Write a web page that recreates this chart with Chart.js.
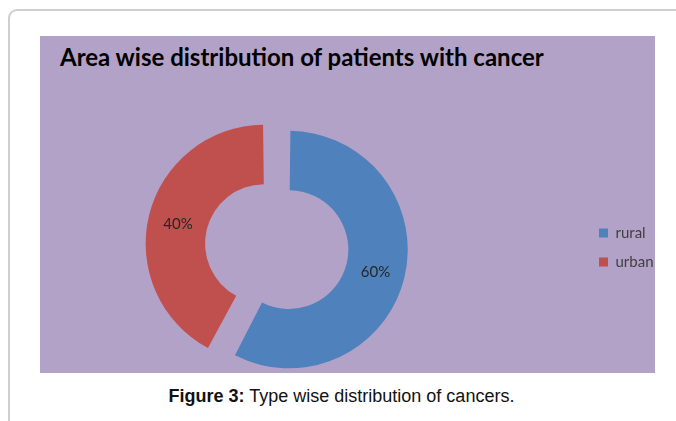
<!DOCTYPE html>
<html lang="en">
  <head>
    <meta charset="utf-8" />
    <title>Area wise distribution of patients with cancer</title>
    <style>
      html, body { margin: 0; padding: 0; background: #fff; overflow: hidden; }
      body { position: relative; width: 676px; height: 421px; }
      #frame {
        position: absolute; left: 8px; top: 9px; width: 720px; height: 440px;
        border-top: 2px solid #cfcfcf; border-left: 2px solid #cfcfcf;
        border-top-left-radius: 9px;
      }
      #plot { position: absolute; left: 40px; top: 36px; width: 615px; height: 337px; background: #b3a2c7; }
      #title {
        position: absolute; left: 60px; top: 42px; line-height: 24px; white-space: nowrap;
        font: bold 24px Lato, "Open Sans", sans-serif; color: #000;
      }
      #chart { position: absolute; left: -40px; top: 36px; }
      #caption {
        position: absolute; left: 0; top: 387px; width: 683px; text-align: center;
        font: 18px/18px "Liberation Sans", Arial, sans-serif; color: #111;
      }
    </style>
  </head>
  <body>
    <div id="frame"></div>
    <div id="plot"></div>
    <div id="title">Area wise distribution of patients with cancer</div>
    <canvas id="chart" width="716" height="337"></canvas>
    <div id="caption"><b>Figure 3:</b> Type wise distribution of cancers.</div>

    <script src="https://cdn.jsdelivr.net/npm/chart.js"></script>
    <script>
      // slice sizes as drawn, and the percentages printed on them
      const areas = ['rural', 'urban'];
      const shares = [57.7, 42.3];
      const shareLabels = ['60%', '40%'];
      const colours = ['#4f81bd', '#c0504d'];

      const legendFont = { family: 'Lato', size: 15 };

      // legend sits at the right edge of the chart area, so work out the right padding from the text
      const measure = document.createElement('canvas').getContext('2d');
      measure.font = legendFont.size + 'px ' + legendFont.family;
      const textW = Math.max(...areas.map(a => measure.measureText(a).width));
      const padRight = 50.5 - textW;

      const sliceLabels = {
        id: 'sliceLabels',
        afterDatasetsDraw(chart) {
          const ctx = chart.ctx;
          const meta = chart.getDatasetMeta(0);
          ctx.save();
          ctx.font = '15px Lato';
          ctx.fillStyle = '#262626';
          ctx.textAlign = 'center';
          ctx.textBaseline = 'middle';
          meta.data.forEach((arc, i) => {
            const p = arc.getProps(['x', 'y', 'startAngle', 'endAngle', 'innerRadius', 'outerRadius', 'circumference']);
            const shift = (arc.options.offset || 0) / 4;
            const grow = shift * (1 - Math.sin(Math.min(Math.PI, p.circumference)));
            const mid = (p.startAngle + p.endAngle) / 2;
            const r = shift + grow + (p.innerRadius + p.outerRadius) / 2;
            ctx.fillText(shareLabels[i], p.x + Math.cos(mid) * r, p.y + Math.sin(mid) * r + 1.5);
          });
          ctx.restore();
        }
      };

      new Chart(document.getElementById('chart'), {
        type: 'doughnut',
        data: {
          labels: areas,
          datasets: [{
            data: shares,
            backgroundColor: colours,
            borderColor: colours,
            borderWidth: 0,
            offset: [35, 66],
            hoverOffset: 0
          }]
        },
        options: {
          responsive: false,
          animation: false,
          radius: 110,
          cutout: '46%',
          layout: { padding: { left: 16, right: padRight, top: 86, bottom: 0 } },
          plugins: {
            legend: {
              position: 'right',
              labels: {
                boxWidth: 9,
                boxHeight: 9,
                padding: 14,
                color: '#404040',
                font: legendFont
              }
            },
            tooltip: { enabled: false }
          }
        },
        plugins: [sliceLabels]
      });
    </script>
  </body>
</html>
